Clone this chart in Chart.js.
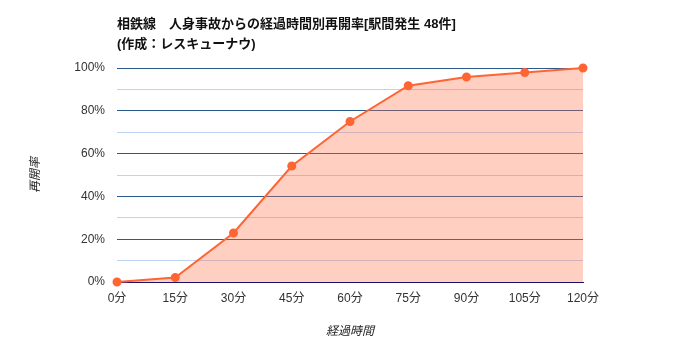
<!DOCTYPE html>
<html>
<head>
<meta charset="utf-8">
<script src="https://cdn.jsdelivr.net/npm/chart.js@4"></script>
<style>
  html, body { margin: 0; padding: 0; background: #fff; }
  #wrap { width: 700px; height: 350px; }
</style>
</head>
<body>
<div id="wrap"><canvas id="c" width="700" height="350"></canvas></div>
<script>
// ── Data ─────────────────────────────────────────────────────
const titleLines = ['相鉄線　人身事故からの経過時間別再開率[駅間発生 48件]', '(作成：レスキューナウ)'];
const minutes    = ['0分','15分','30分','45分','60分','75分','90分','105分','120分'];
const rate       = [0, 2.1, 22.9, 54.2, 75.0, 91.7, 95.8, 97.9, 100];

const FONT = "'Liberation Sans', Arial, 'Noto Sans CJK JP', sans-serif";

new Chart(document.getElementById('c'), {
  type: 'line',
  data: {
    labels: minutes,
    datasets: [{
      data: rate,
      borderColor: '#ff6533',
      backgroundColor: 'rgba(255,110,70,.33)',
      borderWidth: 2,
      pointRadius: 3.5,
      pointBackgroundColor: '#ff6533',
      pointBorderColor: '#ff6533',
      fill: 'origin',
      tension: 0,
      clip: false
    }]
  },
  options: {
    responsive: false,
    animation: false,
    layout: { padding: { left: 24, right: 117, top: 11, bottom: 7 } },
    plugins: {
      legend: { display: false },
      tooltip: { enabled: false },
      title: {
        display: true,
        text: titleLines,
        align: 'start',
        fullSize: false,
        color: '#111',
        font: { family: FONT, size: 13, weight: 'bold', lineHeight: 1.5 },
        padding: { top: 4, bottom: 14 }
      }
    },
    scales: {
      x: {
        offset: false,
        grid: { display: false, drawTicks: false },
        border: { display: true, color: '#1a1070', width: 1 },
        ticks: { color: '#333', font: { family: FONT, size: 12 }, padding: 9, maxRotation: 0, autoSkip: false },
        title: { display: true, text: '経過時間', color: '#222', font: { family: FONT, size: 12, style: 'italic' }, padding: { top: 9, bottom: 4 } },
        afterFit: s => { s.height = 61; }
      },
      y: {
        min: 0, max: 100,
        ticks: {
          stepSize: 10,
          color: '#333',
          font: { family: FONT, size: 12 },
          padding: 12,
          callback: v => (v % 20 === 0 ? v + '%' : '')
        },
        grid: {
          drawTicks: false,
          color: ctx => (ctx.tick && ctx.tick.value % 20 === 0 ? '#2a5a8a' : '#bcd3f3'),
          lineWidth: 1
        },
        border: { display: false },
        title: { display: true, text: '再開率', color: '#222', font: { family: FONT, size: 12, style: 'italic' }, padding: { bottom: 20 } },
        afterFit: s => { s.width = 93; }
      }
    }
  }
});
</script>
</body>
</html>
